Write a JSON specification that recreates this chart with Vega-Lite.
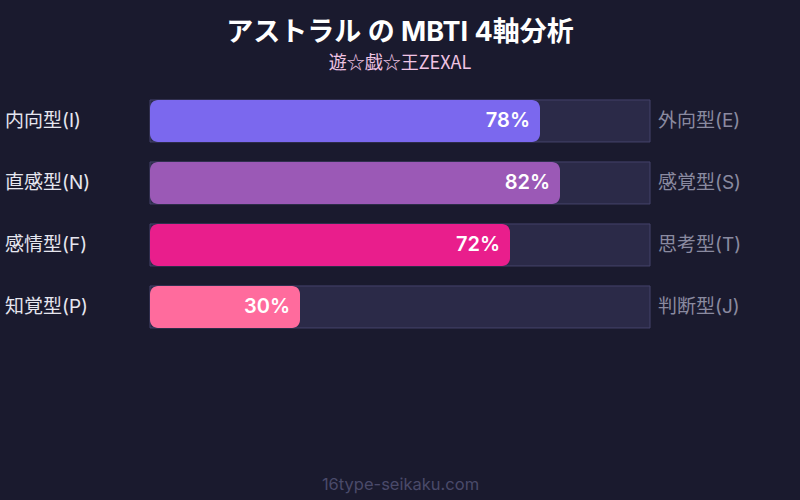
{
  "$schema": "https://vega.github.io/schema/vega-lite/v6.json",
  "description": "MBTI 4-axis bars for Astral",
  "width": 800,
  "height": 352,
  "autosize": "none",
  "padding": {"top": 80, "left": 0, "right": 0, "bottom": 68},
  "background": "#1a1a2e",
  "title": {
    "text": "アストラル の MBTI 4軸分析",
    "subtitle": "遊☆戯☆王ZEXAL",
    "anchor": "middle",
    "frame": "group",
    "font": "Inter, Noto Sans CJK JP",
    "fontSize": 27,
    "fontWeight": "bold",
    "color": "#ffffff",
    "subtitleFont": "Noto Sans CJK JP",
    "subtitleFontSize": 18,
    "subtitleColor": "#f0c4e4",
    "subtitlePadding": 8,
    "offset": 6
  },
  "config": {
    "view": {"stroke": null},
    "font": "Inter, Noto Sans CJK JP"
  },
  "data": {
    "values": [
      {"left": "内向型(I)", "right": "外向型(E)", "value": 0.78},
      {"left": "直感型(N)", "right": "感覚型(S)", "value": 0.82},
      {"left": "感情型(F)", "right": "思考型(T)", "value": 0.72},
      {"left": "知覚型(P)", "right": "判断型(J)", "value": 0.30}
    ]
  },
  "layer": [
    {
      "mark": {"type": "rect", "fill": "#2b2a48", "stroke": "#45436b", "strokeWidth": 1},
      "encoding": {
        "y": {
          "field": "left",
          "type": "nominal",
          "sort": null,
          "axis": null,
          "scale": {"paddingInner": 0.3226, "paddingOuter": 1, "align": 0.161, "round": false}
        },
        "x": {
          "datum": 0,
          "type": "quantitative",
          "scale": {"domain": [-0.3, 1.3], "nice": false, "zero": false},
          "axis": {
            "domain": false,
            "ticks": false,
            "labels": false,
            "grid": false,
            "title": "16type-seikaku.com",
            "titleColor": "#4a4a6a",
            "titleFontSize": 16.5,
            "titleFontWeight": "normal",
            "titleFont": "Inter, Noto Sans CJK JP",
            "titlePadding": 44
          }
        },
        "x2": {"datum": 1}
      }
    },
    {
      "mark": {"type": "rect", "cornerRadius": 8},
      "encoding": {
        "y": {"field": "left", "type": "nominal", "sort": null},
        "x": {"field": "value", "type": "quantitative"},
        "x2": {"datum": 0},
        "color": {
          "field": "left",
          "type": "nominal",
          "legend": null,
          "scale": {
            "domain": ["内向型(I)", "直感型(N)", "感情型(F)", "知覚型(P)"],
            "range": ["#7b68ee", "#9b59b6", "#e91e8c", "#ff6b9d"]
          }
        }
      }
    },
    {
      "mark": {"type": "text", "align": "right", "baseline": "middle", "dx": -10, "fontSize": 20, "fontWeight": 600, "color": "#ffffff"},
      "encoding": {
        "y": {"field": "left", "type": "nominal", "sort": null},
        "x": {"field": "value", "type": "quantitative"},
        "text": {"field": "value", "type": "quantitative", "format": ".0%"}
      }
    },
    {
      "mark": {"type": "text", "align": "left", "baseline": "middle", "fontSize": 19, "color": "#e6e6ef"},
      "encoding": {
        "y": {"field": "left", "type": "nominal", "sort": null},
        "x": {"datum": -0.29, "type": "quantitative"},
        "text": {"field": "left", "type": "nominal"}
      }
    },
    {
      "mark": {"type": "text", "align": "left", "baseline": "middle", "fontSize": 19, "color": "#8a8aa0"},
      "encoding": {
        "y": {"field": "left", "type": "nominal", "sort": null},
        "x": {"datum": 1.016, "type": "quantitative"},
        "text": {"field": "right", "type": "nominal"}
      }
    }
  ]
}
